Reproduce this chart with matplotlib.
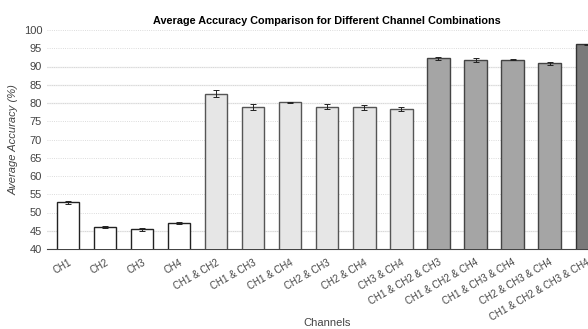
import matplotlib
matplotlib.use('Agg')
import matplotlib.pyplot as plt
import numpy as np

channels = ['CH1', 'CH2', 'CH3', 'CH4',
            'CH1 & CH2', 'CH1 & CH3', 'CH1 & CH4', 'CH2 & CH3', 'CH2 & CH4', 'CH3 & CH4',
            'CH1 & CH2 & CH3', 'CH1 & CH2 & CH4', 'CH1 & CH3 & CH4', 'CH2 & CH3 & CH4',
            'CH1 & CH2 & CH3 & CH4']
accuracy = [52.8, 46.0, 45.4, 47.1,
            82.6, 79.0, 80.2, 79.0, 78.8, 78.3,
            92.2, 91.7, 91.9, 90.9,
            96.1]
errors = [0.4, 0.3, 0.4, 0.3,
          0.9, 0.8, 0.2, 0.6, 0.7, 0.5,
          0.4, 0.6, 0.1, 0.4,
          0.2]
n_channels = [1, 1, 1, 1, 2, 2, 2, 2, 2, 2, 3, 3, 3, 3, 4]

fill = {1: '#ffffff', 2: '#e6e6e6', 3: '#a5a5a5', 4: '#7a7a7a'}
edge = {1: '#222222', 2: '#555555', 3: '#444444', 4: '#333333'}

plt.rcParams['font.family'] = ['Liberation Sans', 'DejaVu Sans']

fig = plt.figure(figsize=(5.88, 3.29), dpi=100)
# axes runs past the right edge, like the cropped reference
ax = fig.add_axes([47 / 588, 1 - 249 / 329, 560 / 588, 219 / 329])

x = np.arange(len(channels))
colors = [fill[n] for n in n_channels]
edges = [edge[n] for n in n_channels]
ax.bar(x, accuracy, width=0.6, color=colors, edgecolor=edges, linewidth=1.0, zorder=3)
ax.errorbar(x, accuracy, yerr=errors, fmt='none', ecolor='#222222',
            elinewidth=0.7, capsize=2, capthick=0.7, zorder=4)

ax.set_ylim(40, 100)
ax.set_xlim(-0.57, 14.55)
ax.set_yticks(np.arange(40, 101, 5))
ax.yaxis.grid(True, linestyle=':', color='#d0d0d0', linewidth=0.6, zorder=0)
for yv in [45, 80, 85, 90]:
    ax.axhline(yv, color='#ececec', linewidth=1.0, zorder=1)

ax.set_xticks(x)
ax.set_xticklabels(channels, rotation=30, ha='right', rotation_mode='anchor',
                   fontsize=7, color='#444444')
ax.tick_params(axis='y', labelsize=8, colors='#444444', length=0)
ax.tick_params(axis='x', length=0, pad=6)

for side in ['top', 'right', 'left']:
    ax.spines[side].set_visible(False)
ax.spines['bottom'].set_color('#444444')

ax.set_title('Average Accuracy Comparison for Different Channel Combinations',
             fontsize=7.8, fontweight='bold', pad=4)
ax.set_ylabel('Average Accuracy (%)', fontsize=8, style='italic', color='#444444')
ax.set_xlabel('Channels', fontsize=8, color='#444444')
ax.xaxis.set_label_coords(0.5, -0.315)

fig.savefig('out.png', dpi=100)
